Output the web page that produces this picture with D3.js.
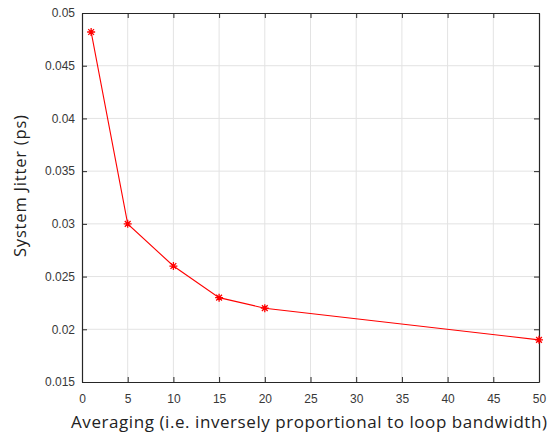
<!DOCTYPE html>
<html>
<head>
<meta charset="utf-8">
<script src="https://cdn.jsdelivr.net/npm/d3@7"></script>
<style>
  html, body { margin: 0; padding: 0; background: #fff; }
  svg { display: block; }
</style>
</head>
<body>
<svg id="chart" width="549" height="438"></svg>
<script>
// Averaging factor vs. measured system jitter
const averaging = [1, 5, 10, 15, 20, 50];
const jitterPs = [0.0482, 0.030, 0.026, 0.023, 0.022, 0.019];
const xTicks = [0, 5, 10, 15, 20, 25, 30, 35, 40, 45, 50];
const yTicks = [0.015, 0.02, 0.025, 0.03, 0.035, 0.04, 0.045, 0.05];
const yTickLabels = ["0.015", "0.02", "0.025", "0.03", "0.035", "0.04", "0.045", "0.05"];

const svg = d3.select("#chart");
const margin = { left: 82, right: 10, top: 13, bottom: 56 };
const W = 549, H = 438;
const x = d3.scaleLinear().domain([0, 50]).range([margin.left, W - margin.right]);
const y = d3.scaleLinear().domain([0.015, 0.05]).range([H - margin.bottom, margin.top]);

const axisColor = "#262626";
const gridColor = "#e3e3e3";
const tickLen = 5;

// grid lines
const grid = svg.append("g");
grid.selectAll("line.gx").data(xTicks.slice(1, -1)).join("line")
  .attr("x1", d => x(d)).attr("x2", d => x(d))
  .attr("y1", y(0.015)).attr("y2", y(0.05))
  .attr("stroke", gridColor).attr("stroke-width", 1);
grid.selectAll("line.gy").data(yTicks.slice(1, -1)).join("line")
  .attr("x1", x(0)).attr("x2", x(50))
  .attr("y1", d => y(d)).attr("y2", d => y(d))
  .attr("stroke", gridColor).attr("stroke-width", 1);

// axes (inward ticks on all four sides)
const fmtY = d => yTickLabels[yTicks.indexOf(d)];
const axBottom = svg.append("g").attr("transform", `translate(0,${y(0.015)})`)
  .call(d3.axisBottom(x).tickValues(xTicks).tickSizeInner(-tickLen).tickSizeOuter(0).tickPadding(12));
const axTop = svg.append("g").attr("transform", `translate(0,${y(0.05)})`)
  .call(d3.axisTop(x).tickValues(xTicks).tickSizeInner(-tickLen).tickSizeOuter(0).tickFormat(""));
const axLeft = svg.append("g").attr("transform", `translate(${x(0)},0)`)
  .call(d3.axisLeft(y).tickValues(yTicks).tickFormat(fmtY).tickSizeInner(-tickLen).tickSizeOuter(0).tickPadding(7));
const axRight = svg.append("g").attr("transform", `translate(${x(50)},0)`)
  .call(d3.axisRight(y).tickValues(yTicks).tickSizeInner(-tickLen).tickSizeOuter(0).tickFormat(""));

[axBottom, axTop, axLeft, axRight].forEach(g => {
  g.selectAll("path.domain").attr("stroke", axisColor).attr("stroke-width", 1.2);
  g.selectAll(".tick line").attr("stroke", axisColor).attr("stroke-width", 1);
  g.selectAll("text").attr("fill", "#383838").attr("font-family", "'Liberation Sans', Arial, sans-serif").attr("font-size", 12);
});

// data line
svg.append("path")
  .datum(averaging.map((a, i) => [a, jitterPs[i]]))
  .attr("fill", "none").attr("stroke", "#ff0000").attr("stroke-width", 1.1)
  .attr("d", d3.line().x(d => x(d[0])).y(d => y(d[1])));

// asterisk markers
const r = 4;
const markers = svg.append("g").selectAll("g").data(averaging.map((a, i) => [a, jitterPs[i]])).join("g")
  .attr("transform", d => `translate(${x(d[0])},${y(d[1])})`);
markers.append("path")
  .attr("d", `M${-r},0H${r}M0,${-r}V${r}M${-r*0.72},${-r*0.72}L${r*0.72},${r*0.72}M${-r*0.72},${r*0.72}L${r*0.72},${-r*0.72}`)
  .attr("stroke", "#ff0000").attr("stroke-width", 1.3).attr("fill", "none");

// axis titles
svg.append("text")
  .attr("x", 309).attr("y", 428)
  .attr("text-anchor", "middle")
  .attr("font-family", "'Open Sans', sans-serif").attr("font-size", 17)
  .attr("textLength", 476).attr("lengthAdjust", "spacing")
  .attr("fill", "#222")
  .text("Averaging (i.e. inversely proportional to loop bandwidth)");
svg.append("text")
  .attr("transform", "translate(26,186) rotate(-90)")
  .attr("text-anchor", "middle")
  .attr("font-family", "'Open Sans', sans-serif").attr("font-size", 16.5)
  .attr("textLength", 142).attr("lengthAdjust", "spacing")
  .attr("fill", "#222")
  .text("System Jitter (ps)");
</script>
</body>
</html>
